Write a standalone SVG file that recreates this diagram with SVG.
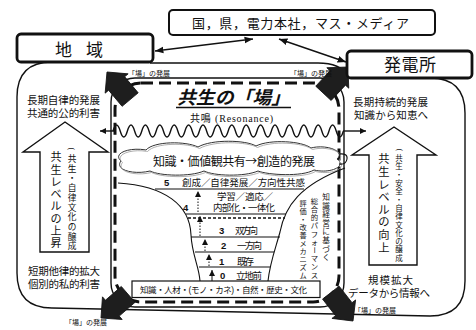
<svg xmlns="http://www.w3.org/2000/svg" width="476" height="330" viewBox="0 0 476 330">
<defs>
<style>
text{font-family:"Liberation Sans","Noto Sans CJK JP","Noto Sans CJK SC",sans-serif;fill:#111}
.ln{fill:none;stroke:#111;stroke-width:1.4}
.thin{fill:none;stroke:#111;stroke-width:1.1}
.box{fill:#fff;stroke:#111;stroke-width:2.8}
.dash{fill:none;stroke:#111;stroke-width:3;stroke-dasharray:12 6}
.t10{font-size:10.5px}
.row{font-size:9.5px}
.num{font-family:"Liberation Sans",sans-serif;font-weight:bold;font-size:9.5px}
.lab{font-size:7px}
.cjk{font-family:"Noto Sans CJK JP","Noto Sans CJK SC",sans-serif}
.vc{font-family:"Liberation Serif","Noto Sans CJK JP","Noto Sans CJK SC",sans-serif;text-anchor:middle}
.rot{font-family:"Liberation Serif","Noto Sans CJK JP","Noto Sans CJK SC",sans-serif;text-anchor:middle;dominant-baseline:central}
.dot{stroke:#111;stroke-width:1;stroke-dasharray:1.5 1.5;fill:none}
.blk{fill:#1e1e1e;stroke:#111;stroke-width:0.8}
.hol{fill:#fff;stroke:#111;stroke-width:1.4}
</style>
<marker id="ah" viewBox="0 0 10 10" refX="10" refY="5" markerWidth="6" markerHeight="6" orient="auto-start-reverse"><path d="M0,1 L10,5 L0,9 Z" fill="#111"/></marker>
<marker id="sa" viewBox="0 0 10 10" refX="10" refY="5" markerUnits="userSpaceOnUse" markerWidth="6" markerHeight="6" orient="auto"><path d="M0,0 L10,5 L0,10 Z" fill="#111"/></marker>
<path id="ba" d="M0,0 L15,15 L10.5,15 L10.5,36 L-10.5,36 L-10.5,15 L-15,15 Z"/>
</defs>
<rect width="476" height="330" fill="#fff"/>

<g id="connectors">
<path class="ln" d="M52,62 Q17,62 17,97 V273 Q17,308 52,308 L430,316 Q465,316 465,281 V113 Q465,78 430,78"/>
<path class="ln" d="M150,63 H318 Q340,63 349,76"/>
<line class="ln" x1="155" y1="51" x2="253" y2="39" marker-start="url(#ah)" marker-end="url(#ah)"/>
<line class="ln" x1="279" y1="39" x2="346" y2="62" marker-start="url(#ah)" marker-end="url(#ah)"/>
</g>

<g id="ba-field">
<rect class="ln" x="111" y="78" width="233" height="229" rx="24"/>
<rect class="dash" x="115" y="83" width="224" height="219" rx="26"/>
<text x="177" y="104" font-size="18" font-weight="bold" font-style="italic" textLength="113" lengthAdjust="spacingAndGlyphs">共生の「場」</text>
<line x1="176" y1="107.5" x2="291" y2="107.5" stroke="#111" stroke-width="1.5"/>
</g>

<g id="resonance">
<text x="190" y="122" font-size="10" textLength="83">共鳴 <tspan font-family="Liberation Serif">(Resonance)</tspan></text>
<path class="ln" d="M113,131 q3.6,-12 7.2,0 t7.2,0 t7.2,0 t7.2,0 t7.2,0 t7.2,0 t7.2,0 t7.2,0 t7.2,0 t7.2,0 t7.2,0 t7.2,0 t7.2,0 t7.2,0 t7.2,0 t7.2,0 t7.2,0 t7.2,0 t7.2,0 t7.2,0 t7.2,0 t7.2,0 t7.2,0 t7.2,0 t7.2,0 t7.2,0 t7.2,0 t7.2,0 t7.2,0 t7.2,0 t7.2,0 t7.2,0"/>
<line class="ln" x1="114" y1="131" x2="100" y2="131" marker-end="url(#sa)"/>
<line class="ln" x1="343" y1="131" x2="366" y2="131" marker-end="url(#sa)"/>
</g>

<g id="cloud">
<path d="M121,161 C112,153 130,147 146,150 C154,141 186,141 198,147 C212,139 246,140 256,146 C270,139 302,141 311,148 C326,144 346,151 337,159 C347,166 331,174 314,170 C302,177 268,175 258,171 C244,177 214,176 204,171 C190,177 160,176 150,171 C134,175 114,170 121,161 Z" fill="#fff" stroke="#333" stroke-width="1"/>
<path d="M121,161 C112,153 130,147 146,150 C154,141 186,141 198,147 C212,139 246,140 256,146 C270,139 302,141 311,148 C326,144 346,151 337,159 C347,166 331,174 314,170 C302,177 268,175 258,171 C244,177 214,176 204,171 C190,177 160,176 150,171 C134,175 114,170 121,161 Z" fill="none" stroke="#999" stroke-width="0.8" transform="translate(1.5,1.5)"/>
<path class="thin" d="M339,154 Q348,153 347,159 Q346,165 339,164"/>
<text class="cjk" x="153" y="166" font-size="12" textLength="162">知識・価値観共有→創造的発展</text>
</g>

<g id="funnel">
<path class="thin" d="M118,183 C165,186 190,205 191,235 C192,255 199,266 200,281"/>
<path class="thin" d="M268,281 C270,262 276,247 280,232 C285,206 300,185 345,168"/>
<line class="thin" x1="155" y1="189" x2="304" y2="189"/>
<line class="thin" x1="186" y1="214" x2="286" y2="214"/>
<line x1="188" y1="218" x2="285" y2="218" stroke="#111" stroke-width="1.3" stroke-dasharray="3 2"/>
<line class="thin" x1="191" y1="237" x2="280" y2="237"/>
<line class="thin" x1="195" y1="252" x2="274" y2="252"/>
<line class="thin" x1="199" y1="267" x2="270" y2="267"/>
<line class="dot" x1="198" y1="212" x2="198" y2="191" marker-end="url(#sa)"/>
<line class="dot" x1="200" y1="236" x2="200" y2="216" marker-end="url(#sa)"/>
<line class="dot" x1="205" y1="251" x2="205" y2="239" marker-end="url(#sa)"/>
<line class="dot" x1="209" y1="266" x2="209" y2="254" marker-end="url(#sa)"/>
<line x1="212" y1="281" x2="212" y2="270" stroke="#111" stroke-width="1" marker-end="url(#sa)"/>
<text class="num" x="164" y="186">5</text>
<text class="row" x="182" y="186" textLength="123">創成／自律発展／方向性共感</text>
<text class="num" x="183" y="211">4</text>
<text class="row" x="217" y="199.5" textLength="56">学習／適応／</text>
<text class="row" x="213" y="211" textLength="62">内部化・一体化</text>
<text class="num" x="219" y="234">3</text>
<text class="row" x="235" y="234" textLength="23" font-size="8.5">双方向</text>
<text class="num" x="221" y="249">2</text>
<text class="row" x="237" y="249" textLength="25" font-size="8.5">一方向</text>
<text class="num" x="219" y="265">1</text>
<text class="row" x="237" y="265" textLength="17" font-size="8.5">既存</text>
<text class="num" x="220" y="279">0</text>
<text class="row" x="236" y="279" textLength="26" font-size="8.5">立地前</text>
</g>

<g id="mechanism">
<text class="vc" font-size="7.7"><tspan x="326" y="199.9">知</tspan><tspan x="326" y="208.5">識</tspan><tspan x="326" y="217.1">経</tspan><tspan x="326" y="225.7">営</tspan><tspan x="326" y="234.3">に</tspan><tspan x="326" y="242.9">基</tspan><tspan x="326" y="251.5">づ</tspan><tspan x="326" y="260.1">く</tspan></text>
<text class="vc" font-size="7.4"><tspan x="314.5" y="203.8">総</tspan><tspan x="314.5" y="212">合</tspan><tspan x="314.5" y="220.2">的</tspan><tspan x="314.5" y="228.4">パ</tspan><tspan x="314.5" y="236.6">フ</tspan><tspan x="314.5" y="244.8">ォ</tspan></text>
<text class="rot" font-size="7.4" transform="translate(314.5,250.2) rotate(90)">ー</text>
<text class="vc" font-size="7.4"><tspan x="314.5" y="261.2">マ</tspan><tspan x="314.5" y="269.4">ン</tspan><tspan x="314.5" y="277.6">ス</tspan></text>
<text class="vc" font-size="7.2"><tspan x="303" y="205.75">評</tspan><tspan x="303" y="213.75">価</tspan><tspan x="303" y="221.75">・</tspan><tspan x="303" y="229.75">改</tspan><tspan x="303" y="237.75">善</tspan><tspan x="303" y="245.75">メ</tspan><tspan x="303" y="253.75">カ</tspan><tspan x="303" y="261.75">ニ</tspan><tspan x="303" y="269.75">ズ</tspan><tspan x="303" y="277.75">ム</tspan></text>
</g>

<g id="base">
<rect x="132" y="281" width="188" height="16.5" fill="#fff" stroke="#111" stroke-width="1.2"/>
<text x="140" y="293" font-size="8.5" textLength="167">知識・人材・(モノ・カネ)・自然・歴史・文化</text>
</g>

<g id="arrows-ba">
<use href="#ba" class="blk" transform="translate(107,72) rotate(-40)"/>
<use href="#ba" class="blk" transform="translate(348,67) rotate(43)"/>
<use href="#ba" class="blk" transform="translate(101,318) rotate(-131)"/>
<use href="#ba" class="blk" transform="translate(353,321) rotate(142)"/>
<text class="lab" x="128" y="76">「場」の発展</text>
<text class="lab" x="290" y="76">「場」の発展</text>
<text class="lab" x="65" y="325">「場」の発展</text>
<text class="lab" x="354" y="313">「場」の発展</text>
</g>

<g id="top-box">
<rect x="169" y="10" width="266" height="25" rx="4" fill="#fff" stroke="#111" stroke-width="2"/>
<text x="192" y="28" font-size="13" textLength="217">国，県，電力本社，マス・メディア</text>
</g>

<g id="chiiki">
<rect class="box" x="17" y="34" width="136" height="28" rx="4"/>
<text x="55" y="56" font-size="17" textLength="48">地　域</text>
<text class="t10" x="27" y="104" textLength="73">長期自律的発展</text>
<text class="t10" x="27" y="117" textLength="73">共通的公的利害</text>
<path class="hol" d="M65,122 L108,152 L89,152 L89,252 L40,252 L40,152 L23,152 Z"/>
<text class="vc" font-size="11.1"><tspan x="56" y="161.2">共</tspan><tspan x="56" y="173.5">生</tspan><tspan x="56" y="185.8">レ</tspan><tspan x="56" y="198.1">ベ</tspan><tspan x="56" y="210.4">ル</tspan><tspan x="56" y="222.7">の</tspan><tspan x="56" y="235">上</tspan><tspan x="56" y="247.3">昇</tspan></text>
<text class="rot" font-size="8.7" transform="translate(72,149) rotate(90)">(</text>
<text class="vc" font-size="8.7"><tspan x="72" y="162">共</tspan><tspan x="72" y="171.7">生</tspan><tspan x="72" y="181.4">・</tspan><tspan x="72" y="191.1">自</tspan><tspan x="72" y="200.8">律</tspan><tspan x="72" y="210.5">文</tspan><tspan x="72" y="220.2">化</tspan><tspan x="72" y="229.9">の</tspan><tspan x="72" y="239.6">醸</tspan><tspan x="72" y="249.3">成</tspan></text>
<text class="t10" x="28" y="275" textLength="72">短期他律的拡大</text>
<text class="t10" x="28" y="288" textLength="72">個別的私的利害</text>
</g>

<g id="hatsudensho">
<rect class="box" x="347" y="51" width="125" height="27" rx="4"/>
<text x="384" y="71" font-size="17" textLength="52">発電所</text>
<text class="t10" x="353" y="106" textLength="75">長期持続的発展</text>
<text class="t10" x="354" y="119" textLength="74">知識から知恵へ</text>
<path class="hol" d="M394,127 L436,155 L417,155 L417,265 L369,265 L369,155 L352,155 Z"/>
<text class="vc" font-size="11.3"><tspan x="384" y="163.3">共</tspan><tspan x="384" y="175.9">生</tspan><tspan x="384" y="188.5">レ</tspan><tspan x="384" y="201.1">ベ</tspan><tspan x="384" y="213.7">ル</tspan><tspan x="384" y="226.3">の</tspan><tspan x="384" y="238.9">向</tspan><tspan x="384" y="251.5">上</tspan></text>
<text class="rot" font-size="7.5" transform="translate(399,150) rotate(90)">(</text>
<text class="vc" font-size="7.5"><tspan x="399" y="161.15">共</tspan><tspan x="399" y="169.45">生</tspan><tspan x="399" y="177.75">・</tspan><tspan x="399" y="186.05">安</tspan><tspan x="399" y="194.35">全</tspan><tspan x="399" y="202.65">・</tspan><tspan x="399" y="210.95">自</tspan><tspan x="399" y="219.25">律</tspan><tspan x="399" y="227.55">文</tspan><tspan x="399" y="235.85">化</tspan><tspan x="399" y="244.15">の</tspan><tspan x="399" y="252.45">醸</tspan><tspan x="399" y="260.75">成</tspan></text>
<text class="t10" x="368" y="284" textLength="45">規模拡大</text>
<text class="t10" x="348" y="297" textLength="82">データから情報へ</text>
</g>
</svg>
